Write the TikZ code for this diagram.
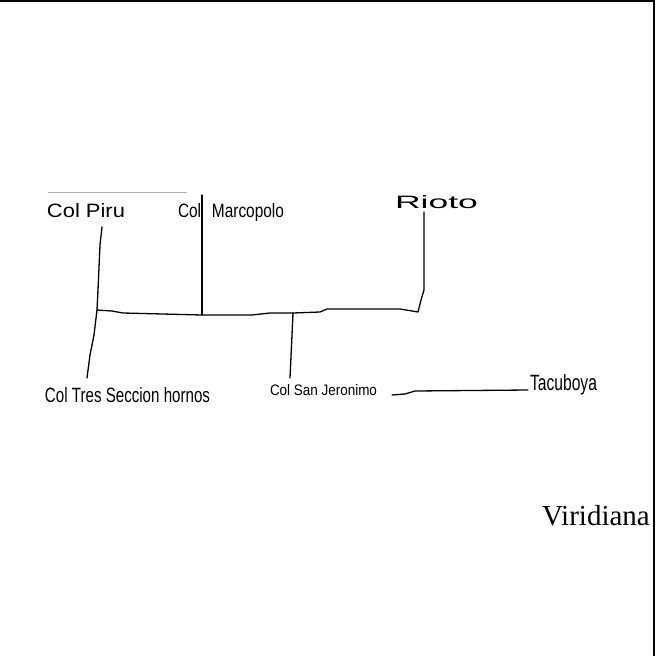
\documentclass[tikz,border=0pt]{standalone}
\usepackage{fontspec}
\usepackage{graphicx}
\setmainfont{Liberation Serif}
\newfontfamily\handfont{Liberation Sans}
\newcommand\hw[3]{\resizebox{#1pt}{#2pt}{\handfont #3}}
\tikzset{
  hand/.style={inner sep=0pt, outer sep=0pt, anchor=base west},
  wire/.style={draw=black, line width=1.3pt, line join=round, line cap=round},
  frame/.style={draw=black, line width=2.2pt},
}
\begin{document}
\begin{tikzpicture}[x=1pt,y=-1pt]
\useasboundingbox (0,0) rectangle (657,656);
% frame (top and right only)
\draw[frame] (0,1.1) -- (654,1.1) -- (654,656);
% faint line above Col Piru
\draw[gray!60, line width=0.8pt] (48,192) -- (187,192);
% labels
\node[hand] (piru)  at (47,217)  {\hw{78}{14}{Col Piru}};
\node[hand] (marco) at (178,217) {\hw{106}{14}{Col\hspace{0.7em}Marcopolo}};
\node[hand] (rioto) at (395,208) {\hw{83}{13}{Rioto}};
\node[hand] (tres)  at (45,402)  {\hw{165}{15}{Col Tres Seccion hornos}};
\node[hand] (sanj)  at (270,395) {\hw{107}{11}{Col San Jeronimo}};
\node[hand] (tacu)  at (530,390) {\hw{67}{16}{Tacuboya}};
\node[inner sep=0pt, anchor=base east, font=\fontsize{29}{30}\selectfont] (viri) at (650,525) {Viridiana};
% junctions and ends
\coordinate (pirutop) at (102,227);
\coordinate (j1) at (97,310);
\coordinate (tresend) at (87,378);
\coordinate (marcotop) at (202,195);
\coordinate (j2) at (202,315);
\coordinate (j3) at (293,313);
\coordinate (riotoend) at (424,212);
\coordinate (sanjend) at (290,378);
\coordinate (linestart) at (392,395);
\coordinate (lineend) at (528,390);
% tree
\draw[wire] (pirutop) -- (100,245) -- (98,290) -- (j1) -- (94,335) -- (90,355) -- (tresend);
\draw[wire] (marcotop) -- (202,285) -- (j2);
\draw[wire] (j1) -- (112,311) -- (123,313) -- (j2) -- (252,315) -- (270,313) -- (j3)
  -- (320,312) -- (327,309) -- (400,309) -- (418,312) -- (421,300) -- (424,290) -- (riotoend);
\draw[wire] (j3) -- (292,335) -- (sanjend);
\draw[wire] (linestart) -- (405,394) -- (415,391) -- (lineend);
\end{tikzpicture}
\end{document}
